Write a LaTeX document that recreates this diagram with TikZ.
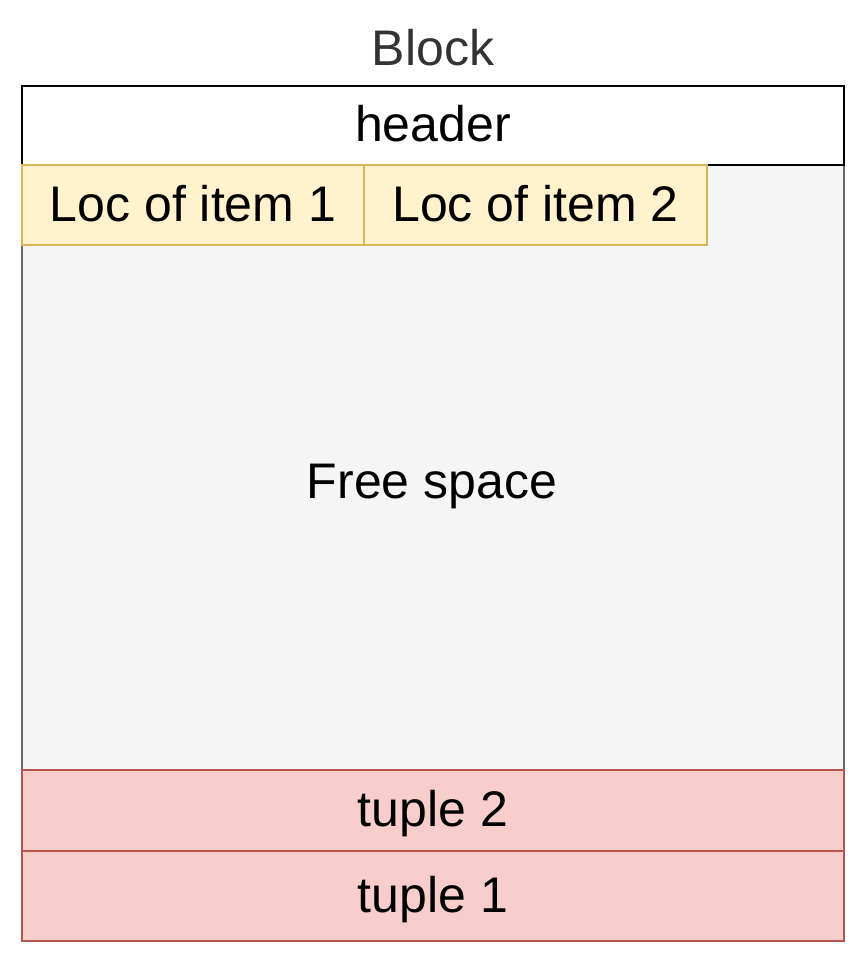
\documentclass[tikz,border=0pt]{standalone}
\usepackage{fontspec}
\setmainfont{Liberation Sans}
\definecolor{frfill}{HTML}{F5F5F5}
\definecolor{frline}{HTML}{666666}
\definecolor{yfill}{HTML}{FFF2CC}
\definecolor{yline}{HTML}{D6B656}
\definecolor{rfill}{HTML}{F8CECC}
\definecolor{rline}{HTML}{B85450}
\definecolor{ttl}{HTML}{333333}
\begin{document}
\begin{tikzpicture}[x=1pt,y=-1pt,
  cell/.style={rectangle,inner sep=0pt,line width=2pt,text height=33pt,text depth=1pt,font=\fontsize{50}{60}\selectfont},
  txt/.style={inner sep=0pt,text height=33pt,text depth=1pt,font=\fontsize{50}{60}\selectfont}]
\useasboundingbox (0,0) rectangle (864,960);
% free space
\node[cell,draw=frline,fill=frfill,minimum width=822pt,minimum height=605pt] (free) at (433,467.5) {};
\node[txt] (freetxt) at (432,482) {Free space};
% header
\node[cell,draw=black,fill=white,minimum width=822pt,minimum height=79pt] (header) at (433,125.5) {header};
% locs
\node[cell,draw=yline,fill=yfill,minimum width=342pt,minimum height=80pt] (loc1) at (193,205) {Loc of item 1};
\node[cell,draw=yline,fill=yfill,minimum width=343pt,minimum height=80pt] (loc2) at (535.5,205) {Loc of item 2};
% tuples
\node[cell,draw=rline,fill=rfill,minimum width=822pt,minimum height=81pt] (t2) at (433,810.5) {tuple 2};
\node[cell,draw=rline,fill=rfill,minimum width=822pt,minimum height=90pt] (t1) at (433,896) {tuple 1};
% title
\node[txt,text=ttl] (title) at (433,50) {Block};
\end{tikzpicture}
\end{document}
